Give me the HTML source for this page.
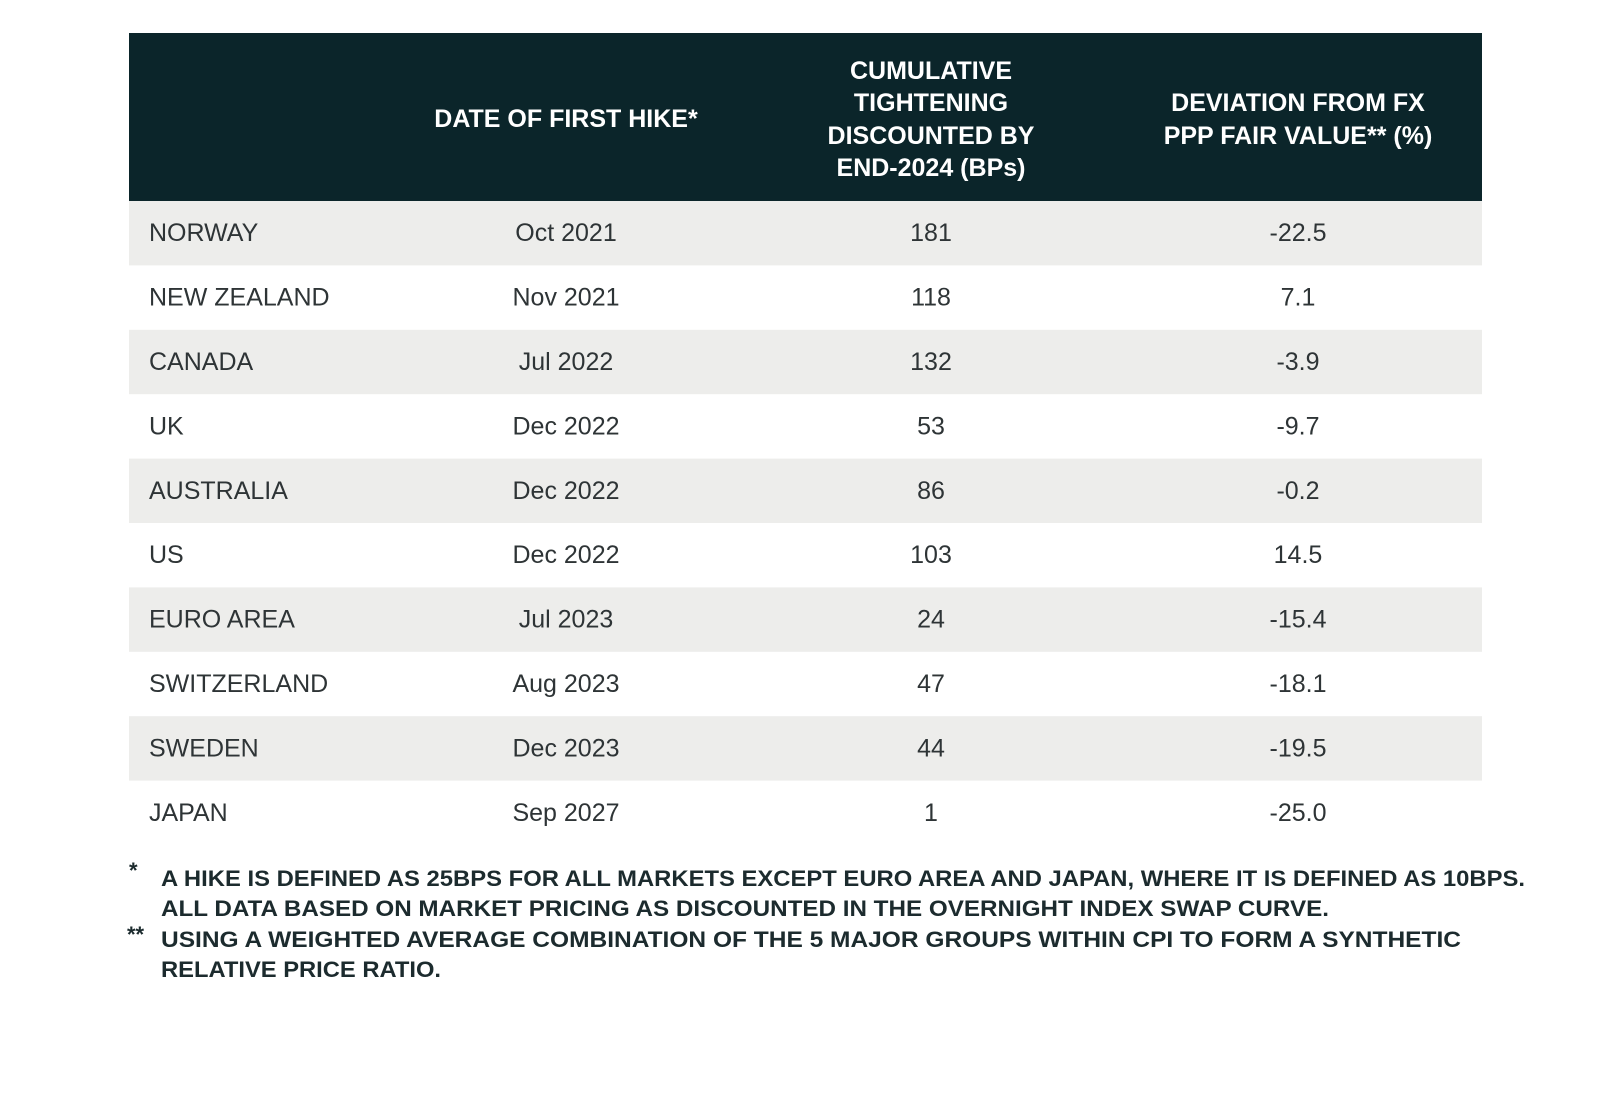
<!DOCTYPE html>
<html><head><meta charset="utf-8"><style>
body{margin:0;width:1600px;height:1096px;background:#fff;overflow:hidden;font-family:"Liberation Sans",sans-serif;}
svg{display:block}
</style></head><body>
<svg width="1600" height="1096" id="tbl">
<rect x="129" y="33" width="1353" height="168" fill="#0b252a"/>
<g font-weight="bold" fill="#fff" font-size="25" text-anchor="middle">
<text x="566" y="127">DATE OF FIRST HIKE*</text>
<g>
<text x="931" y="79">CUMULATIVE</text><text x="931" y="111">TIGHTENING</text><text x="931" y="144">DISCOUNTED BY</text><text x="931" y="176">END-2024 (BPs)</text></g>
<g>
<text x="1298" y="111">DEVIATION FROM FX</text><text x="1298" y="144">PPP FAIR VALUE** (%)</text></g>
</g>
<g id="rows"></g>
<g font-weight="bold" fill="#1c2b2e" font-size="22">
<text x="129" y="878">*</text>
<text x="161" y="886" textLength="1364" lengthAdjust="spacingAndGlyphs">A HIKE IS DEFINED AS 25BPS FOR ALL MARKETS EXCEPT EURO AREA AND JAPAN, WHERE IT IS DEFINED AS 10BPS.</text>
<text x="161" y="916" textLength="1168" lengthAdjust="spacingAndGlyphs">ALL DATA BASED ON MARKET PRICING AS DISCOUNTED IN THE OVERNIGHT INDEX SWAP CURVE.</text>
<text x="127" y="942">**</text>
<text x="161" y="947" textLength="1300" lengthAdjust="spacingAndGlyphs">USING A WEIGHTED AVERAGE COMBINATION OF THE 5 MAJOR  GROUPS WITHIN CPI TO FORM A SYNTHETIC</text>
<text x="161" y="977" textLength="280" lengthAdjust="spacingAndGlyphs">RELATIVE PRICE RATIO.</text>
</g>
</svg>
<script>
const countries=["NORWAY","NEW ZEALAND","CANADA","UK","AUSTRALIA","US","EURO AREA","SWITZERLAND","SWEDEN","JAPAN"];
const dates=["Oct 2021","Nov 2021","Jul 2022","Dec 2022","Dec 2022","Dec 2022","Jul 2023","Aug 2023","Dec 2023","Sep 2027"];
const tightening=[181,118,132,53,86,103,24,47,44,1];
const deviation=["-22.5","7.1","-3.9","-9.7","-0.2","14.5","-15.4","-18.1","-19.5","-25.0"];
const NS="http://www.w3.org/2000/svg";
const g=document.getElementById('rows');
const top0=201,rh=64.4;
countries.forEach((c,i)=>{
  const y=top0+i*rh;
  const row=document.createElementNS(NS,'g');
  
  
  if(i%2===0){const r=document.createElementNS(NS,'rect');
    r.setAttribute('x',129);r.setAttribute('y',y);r.setAttribute('width',1353);r.setAttribute('height',rh);r.setAttribute('fill','#ededeb');
    
    
    row.appendChild(r);}
  const cells=[[c,149,'start','country'],[dates[i],566,'middle','date'],[String(tightening[i]),931,'middle','tightening'],[deviation[i],1298,'middle','deviation']];
  cells.forEach(([t,x,a,n])=>{const e=document.createElementNS(NS,'text');
    e.setAttribute('x',x);e.setAttribute('y',y+rh/2+8);e.setAttribute('text-anchor',a);
    e.setAttribute('font-size','25');e.setAttribute('fill','#2e3436');e.textContent=t;
    
    
    row.appendChild(e);});
  g.appendChild(row);
});
</script>
</body></html>
